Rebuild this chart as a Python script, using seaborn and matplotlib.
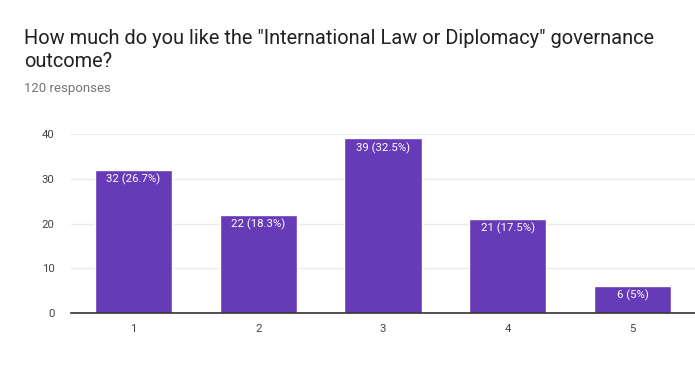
import matplotlib
matplotlib.use('Agg')
import matplotlib.pyplot as plt
import seaborn as sns
import pandas as pd

categories = ["1", "2", "3", "4", "5"]
counts = [32, 22, 39, 21, 6]
labels = ["32 (26.7%)", "22 (18.3%)", "39 (32.5%)", "21 (17.5%)", "6 (5%)"]

sns.set_style("white")
plt.rcParams["font.family"] = ["Roboto", "DejaVu Sans"]

df = pd.DataFrame({"answer": categories, "count": counts})

fig = plt.figure(figsize=(6.95, 3.88), dpi=100)
ax = fig.add_axes([71 / 695, 75 / 388, 624 / 695, 179 / 388])

sns.barplot(data=df, x="answer", y="count", color="#673ab7", width=0.62,
            saturation=1, ax=ax, zorder=3)

for i, (c, lab) in enumerate(zip(counts, labels)):
    ax.text(i, c - 0.8, lab, ha="center", va="top", color="white", fontsize=8.2, zorder=4)

ax.set_xlim(-0.5, 4.5)
ax.set_ylim(0, 40)
ax.set_yticks([0, 10, 20, 30, 40])
ax.grid(axis="y", color="#ebebeb", linewidth=1, zorder=0)
ax.set_xlabel("")
ax.set_ylabel("")
for s in ["top", "right", "left"]:
    ax.spines[s].set_visible(False)
ax.spines["bottom"].set_color("#333333")
ax.spines["bottom"].set_linewidth(1.2)
ax.spines["bottom"].set_zorder(5)
ax.tick_params(axis="both", length=0, labelsize=8.2, labelcolor="#444444")
ax.tick_params(axis="y", pad=12)
ax.tick_params(axis="x", pad=8)

fig.text(24 / 695, 1 - 44 / 388, 'How much do you like the "International Law or Diplomacy" governance',
         fontsize=14.4, color="#212121", va="baseline", ha="left")
fig.text(24 / 695, 1 - 67 / 388, "outcome?",
         fontsize=14.4, color="#212121", va="baseline", ha="left")
fig.text(24 / 695, 1 - 92 / 388, "120 responses", fontsize=9.5, color="#757575", va="baseline", ha="left")

fig.savefig("out.png", dpi=100)
